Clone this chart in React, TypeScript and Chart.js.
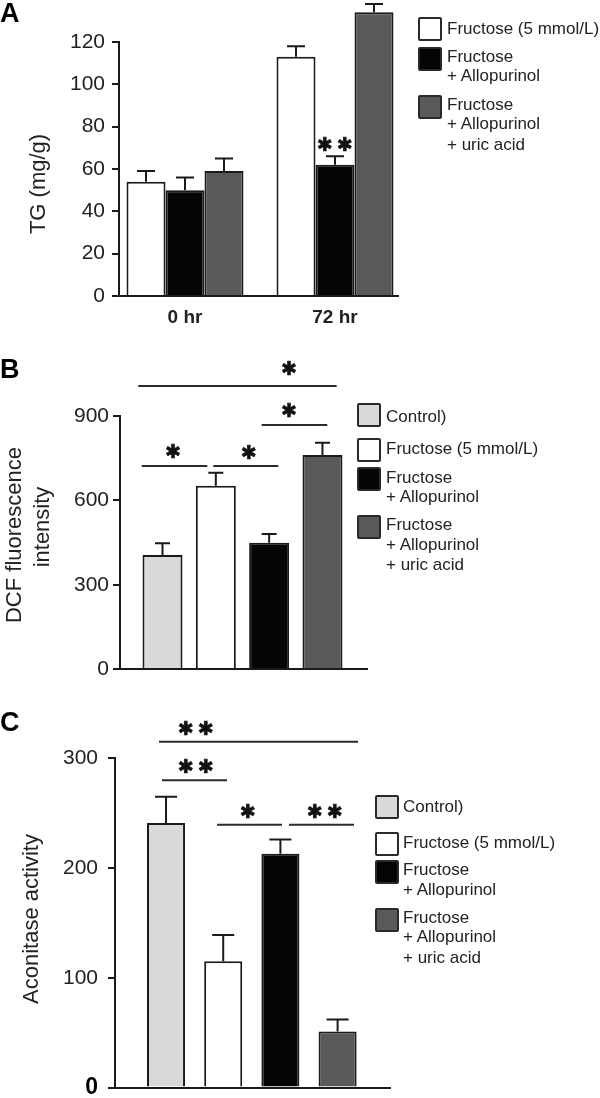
import React, { useEffect, useRef } from 'react';
import { Chart, registerables } from 'chart.js';

Chart.register(...registerables);

// ---------------- data ----------------
// Panel A: TG (mg/g)
const groupLabelsA = ['0 hr', '72 hr'];
const tgFructose = [54, 113];
const tgFructoseAllo = [50, 62];
const tgFructoseAlloUric = [59, 134];
const tgFructoseErr = [5, 5];
const tgFructoseAlloErr = [6, 4];
const tgFructoseAlloUricErr = [6, 4];
const tgTicks = [0, 20, 40, 60, 80, 100, 120];
const tgSig = [{ dataset: 1, index: 1, y: 71, label: '**' }];

// Panel B / C conditions
const conditionLabels = [
  'Control)',
  'Fructose (5 mmol/L)',
  'Fructose\n+ Allopurinol',
  'Fructose\n+ Allopurinol\n+ uric acid',
];
const conditionPositions = [1, 2, 3, 4];

// Panel B: DCF fluorescence intensity
const dcfValues = [406, 652, 450, 761];
const dcfErr = [42, 46, 31, 44];
const dcfTicks = [0, 300, 600, 900];
const dcfSig = [
  { x0: 0.546, x1: 4.266, y: 1007, label: '*', lx: 3.378, ly: 1063 },
  { x0: 2.86, x1: 4.09, y: 868, label: '*', lx: 3.378, ly: 915 },
  { x0: 0.61, x1: 1.84, y: 722, label: '*', lx: 1.203, ly: 767 },
  { x0: 1.953, x1: 3.171, y: 722, label: '*', lx: 2.622, ly: 763 },
];

// Panel C: Aconitase activity
const aconitaseValues = [241, 115, 213, 51];
const aconitaseErr = [24, 24, 13, 11];
const aconitaseTicks = [0, 100, 200, 300];
const aconitaseSig = [
  { x0: 0.878, x1: 4.357, y: 315, label: '**', lx: 1.524, ly: 326 },
  { x0: 0.93, x1: 2.066, y: 280, label: '**', lx: 1.524, ly: 291.5 },
  { x0: 1.892, x1: 3.028, y: 239.4, label: '*', lx: 2.434, ly: 250.3 },
  { x0: 3.15, x1: 4.287, y: 239.4, label: '**', lx: 3.78, ly: 250.3 },
];

// ---------------- styles ----------------
const INK = '#1a1a1a';
const FONT = '"Liberation Sans", Arial, Helvetica, sans-serif';
const CONTROL_FILL = '#d9d9d9';
const FRUCTOSE_FILL = '#ffffff';
const ALLO_FILL = '#050505';
const URIC_FILL = '#595959';
const conditionFills = [CONTROL_FILL, FRUCTOSE_FILL, ALLO_FILL, URIC_FILL];

// ---------------- plugins ----------------
function errorBarPlugin(errors: number[][], cap: number) {
  return {
    id: 'errorBars',
    afterDatasetsDraw(chart: any) {
      const ctx = chart.ctx;
      const ys = chart.scales.y;
      ctx.save();
      ctx.strokeStyle = INK;
      ctx.lineWidth = 2;
      chart.data.datasets.forEach((ds: any, i: number) => {
        const meta = chart.getDatasetMeta(i);
        meta.data.forEach((el: any, j: number) => {
          const raw = ds.data[j];
          const v = typeof raw === 'object' ? raw.y : raw;
          const top = ys.getPixelForValue(v + errors[i][j]);
          ctx.beginPath();
          ctx.moveTo(el.x, el.y);
          ctx.lineTo(el.x, top);
          ctx.moveTo(el.x - cap / 2, top);
          ctx.lineTo(el.x + cap / 2, top);
          ctx.stroke();
        });
      });
      ctx.restore();
    },
  };
}

function drawStars(ctx: CanvasRenderingContext2D, label: string, x: number, y: number) {
  ctx.save();
  ctx.fillStyle = '#111';
  ctx.strokeStyle = '#111';
  ctx.lineWidth = 0.6;
  ctx.font = '19px "DejaVu Sans", sans-serif';
  ctx.textAlign = 'center';
  ctx.textBaseline = 'middle';
  const n = label.length;
  for (let k = 0; k < n; k++) {
    const sx = x + (k - (n - 1) / 2) * 20;
    ctx.fillText('\u2731', sx, y);
    ctx.strokeText('\u2731', sx, y);
  }
  ctx.restore();
}

type Bracket = { x0: number; x1: number; y: number; label: string; lx: number; ly: number };

function bracketPlugin(items: Bracket[]) {
  return {
    id: 'brackets',
    afterDraw(chart: any) {
      const ctx = chart.ctx;
      const xs = chart.scales.x;
      const ys = chart.scales.y;
      ctx.save();
      ctx.strokeStyle = '#2a2a2a';
      ctx.lineWidth = 2;
      items.forEach((b) => {
        const y = ys.getPixelForValue(b.y);
        ctx.beginPath();
        ctx.moveTo(xs.getPixelForValue(b.x0), y);
        ctx.lineTo(xs.getPixelForValue(b.x1), y);
        ctx.stroke();
        drawStars(ctx, b.label, xs.getPixelForValue(b.lx), ys.getPixelForValue(b.ly));
      });
      ctx.restore();
    },
  };
}

function barStarPlugin(items: { dataset: number; index: number; y: number; label: string }[]) {
  return {
    id: 'barStars',
    afterDraw(chart: any) {
      const ys = chart.scales.y;
      items.forEach((s) => {
        const el = chart.getDatasetMeta(s.dataset).data[s.index];
        drawStars(chart.ctx, s.label, el.x, ys.getPixelForValue(s.y));
      });
    },
  };
}

function yTitlePlugin(lines: { text: string; x: number; y: number }[]) {
  return {
    id: 'yTitle',
    afterDraw(chart: any) {
      const ctx = chart.ctx;
      ctx.save();
      ctx.fillStyle = '#222';
      ctx.font = `22px ${FONT}`;
      ctx.textAlign = 'center';
      ctx.textBaseline = 'middle';
      lines.forEach((l) => {
        ctx.save();
        ctx.translate(l.x, l.y);
        ctx.rotate(-Math.PI / 2);
        ctx.fillText(l.text, 0, 0);
        ctx.restore();
      });
      ctx.restore();
    },
  };
}

// ---------------- options ----------------
type BaseOpts = {
  pad: { left: number; right: number; top: number; bottom: number };
  yWidth: number;
  xHeight: number;
  xMin: number;
  xMax: number;
  xTicks: number[];
  xLabels?: string[];
  xLabelPad?: number;
  yMax: number;
  yTicks: number[];
  yPad: number;
  yZeroBold?: boolean;
};

function baseOptions(o: BaseOpts): any {
  return {
    responsive: false,
    animation: false,
    events: [],
    layout: { padding: o.pad },
    plugins: { legend: { display: false }, tooltip: { enabled: false } },
    scales: {
      x: {
        type: 'linear',
        offset: false,
        min: o.xMin,
        max: o.xMax,
        afterFit: (s: any) => {
          s.height = o.xHeight;
        },
        afterBuildTicks: (s: any) => {
          s.ticks = o.xTicks.map((v) => ({ value: v }));
        },
        grid: { display: false, drawTicks: false },
        border: { display: true, color: INK, width: 2, z: 1 },
        ticks: {
          display: !!o.xLabels,
          autoSkip: false,
          maxRotation: 0,
          padding: o.xLabelPad ?? 0,
          color: '#222',
          font: { family: FONT, size: 19, weight: 'bold' },
          callback: (v: number) => (o.xLabels ? o.xLabels[v] : ''),
        },
      },
      y: {
        type: 'linear',
        min: 0,
        max: o.yMax,
        afterFit: (s: any) => {
          s.width = o.yWidth;
        },
        afterBuildTicks: (s: any) => {
          s.ticks = o.yTicks.map((v) => ({ value: v }));
        },
        grid: {
          display: true,
          drawOnChartArea: false,
          drawTicks: true,
          tickLength: 7,
          tickWidth: 2,
          tickColor: INK,
          color: INK,
          lineWidth: 2,
        },
        border: { display: true, color: INK, width: 2, z: 1 },
        ticks: {
          padding: o.yPad,
          color: (c: any) => (o.yZeroBold && c.tick && c.tick.value === 0 ? '#000' : '#222'),
          font: (c: any) =>
            o.yZeroBold && c.tick && c.tick.value === 0
              ? { family: FONT, size: 23, weight: 'bold' }
              : { family: FONT, size: 21 },
        },
      },
    },
  };
}

const barStyle = {
  borderColor: INK,
  borderWidth: 2,
  clip: false,
};

function configA(): any {
  const series = [tgFructose, tgFructoseAllo, tgFructoseAlloUric];
  const fills = [FRUCTOSE_FILL, ALLO_FILL, URIC_FILL];
  return {
    type: 'bar',
    data: {
      datasets: series.map((vals, i) => ({
        label: conditionLabels[i + 1],
        data: vals.map((v, k) => ({ x: k, y: v })),
        backgroundColor: fills[i],
        categoryPercentage: 0.78,
        barPercentage: 1,
        ...barStyle,
      })),
    },
    options: baseOptions({
      pad: { left: 59, right: 202, top: 42, bottom: 4 },
      yWidth: 60,
      xHeight: 40,
      xMin: -0.44,
      xMax: 1.42,
      xTicks: [0, 1],
      xLabels: groupLabelsA,
      xLabelPad: 10,
      yMax: 120,
      yTicks: tgTicks,
      yPad: 7,
    }),
    plugins: [
      errorBarPlugin([tgFructoseErr, tgFructoseAlloErr, tgFructoseAlloUricErr], 18),
      barStarPlugin(tgSig),
      yTitlePlugin([{ text: 'TG (mg/g)', x: 39, y: 184 }]),
    ],
  };
}

function configB(): any {
  return {
    type: 'bar',
    data: {
      datasets: [
        {
          label: 'DCF',
          data: dcfValues.map((v, k) => ({ x: conditionPositions[k], y: v })),
          backgroundColor: conditionFills,
          categoryPercentage: 0.75,
          barPercentage: 1,
          ...barStyle,
        },
      ],
    },
    options: baseOptions({
      pad: { left: 60, right: 233, top: 76, bottom: 4.7 },
      yWidth: 60,
      xHeight: 26,
      xMin: 0.203,
      xMax: 4.835,
      xTicks: conditionPositions,
      yMax: 900,
      yTicks: dcfTicks,
      yPad: 4,
    }),
    plugins: [
      errorBarPlugin([dcfErr], 15),
      bracketPlugin(dcfSig),
      yTitlePlugin([
        { text: 'DCF fluorescence', x: 15, y: 195 },
        { text: 'intensity', x: 43, y: 187 },
      ]),
    ],
  };
}

function configC(): any {
  return {
    type: 'bar',
    data: {
      datasets: [
        {
          label: 'Aconitase',
          data: aconitaseValues.map((v, k) => ({ x: conditionPositions[k], y: v })),
          backgroundColor: conditionFills,
          categoryPercentage: 0.665,
          barPercentage: 1,
          ...barStyle,
        },
      ],
    },
    options: baseOptions({
      pad: { left: 55, right: 210, top: 58.3, bottom: 12.5 },
      yWidth: 60,
      xHeight: 20,
      xMin: 0.108,
      xMax: 4.916,
      xTicks: conditionPositions,
      yMax: 300,
      yTicks: aconitaseTicks,
      yPad: 10,
      yZeroBold: true,
    }),
    plugins: [
      errorBarPlugin([aconitaseErr], 22),
      bracketPlugin(aconitaseSig),
      yTitlePlugin([{ text: 'Aconitase activity', x: 32, y: 219 }]),
    ],
  };
}

// ---------------- components ----------------
function ChartCanvas({ make, top, height }: { make: () => any; top: number; height: number }) {
  const ref = useRef<HTMLCanvasElement>(null);
  useEffect(() => {
    const chart = new Chart(ref.current as HTMLCanvasElement, make());
    return () => chart.destroy();
  }, []);
  return (
    <canvas
      ref={ref}
      width={600}
      height={height}
      style={{ position: 'absolute', left: 0, top, width: 600, height }}
    />
  );
}

type LegendEntry = { label: string; fill: string; boxY: number; lineY: number[] };

function Legend({ boxX, textX, entries }: { boxX: number; textX: number; entries: LegendEntry[] }) {
  return (
    <>
      {entries.map((e, i) => (
        <React.Fragment key={i}>
          <div
            style={{
              position: 'absolute',
              left: boxX,
              top: e.boxY,
              width: 24,
              height: 24,
              boxSizing: 'border-box',
              border: '2px solid #2a2a2a',
              borderRadius: 2,
              background: e.fill,
            }}
          />
          {e.label.split('\n').map((t, k) => (
            <div
              key={k}
              style={{
                position: 'absolute',
                left: textX,
                top: e.lineY[k] - 10,
                lineHeight: '20px',
                fontSize: 17,
                fontFamily: FONT,
                color: '#222',
                whiteSpace: 'nowrap',
              }}
            >
              {t}
            </div>
          ))}
        </React.Fragment>
      ))}
    </>
  );
}

function PanelLetter({ text, top }: { text: string; top: number }) {
  return (
    <div
      style={{
        position: 'absolute',
        left: 0,
        top,
        fontFamily: FONT,
        fontWeight: 'bold',
        fontSize: 27,
        lineHeight: '27px',
        color: '#000',
      }}
    >
      {text}
    </div>
  );
}

export default function App() {
  const legendA: LegendEntry[] = [
    { label: conditionLabels[1], fill: FRUCTOSE_FILL, boxY: 17, lineY: [29] },
    { label: conditionLabels[2], fill: ALLO_FILL, boxY: 47, lineY: [57, 76] },
    { label: conditionLabels[3], fill: URIC_FILL, boxY: 95, lineY: [105, 124, 145] },
  ];
  const legendB: LegendEntry[] = [
    { label: conditionLabels[0], fill: CONTROL_FILL, boxY: 403, lineY: [416.7] },
    { label: conditionLabels[1], fill: FRUCTOSE_FILL, boxY: 438, lineY: [449.3] },
    { label: conditionLabels[2], fill: ALLO_FILL, boxY: 467, lineY: [477.7, 497.3] },
    { label: conditionLabels[3], fill: URIC_FILL, boxY: 515, lineY: [525, 545, 565] },
  ];
  const legendC: LegendEntry[] = [
    { label: conditionLabels[0], fill: CONTROL_FILL, boxY: 795, lineY: [807] },
    { label: conditionLabels[1], fill: FRUCTOSE_FILL, boxY: 832, lineY: [842.7] },
    { label: conditionLabels[2], fill: ALLO_FILL, boxY: 860, lineY: [870, 890] },
    { label: conditionLabels[3], fill: URIC_FILL, boxY: 908, lineY: [918.3, 937.3, 957.7] },
  ];
  return (
    <div
      style={{
        position: 'absolute',
        left: 0,
        top: 0,
        width: 600,
        height: 1098,
        overflow: 'hidden',
        background: '#fff',
      }}
    >
      <ChartCanvas make={configA} top={0} height={340} />
      <ChartCanvas make={configB} top={340} height={360} />
      <ChartCanvas make={configC} top={700} height={420} />
      <PanelLetter text="A" top={0} />
      <PanelLetter text="B" top={356} />
      <PanelLetter text="C" top={709} />
      <Legend boxX={418} textX={447} entries={legendA} />
      <Legend boxX={357} textX={386} entries={legendB} />
      <Legend boxX={375} textX={403} entries={legendC} />
    </div>
  );
}
